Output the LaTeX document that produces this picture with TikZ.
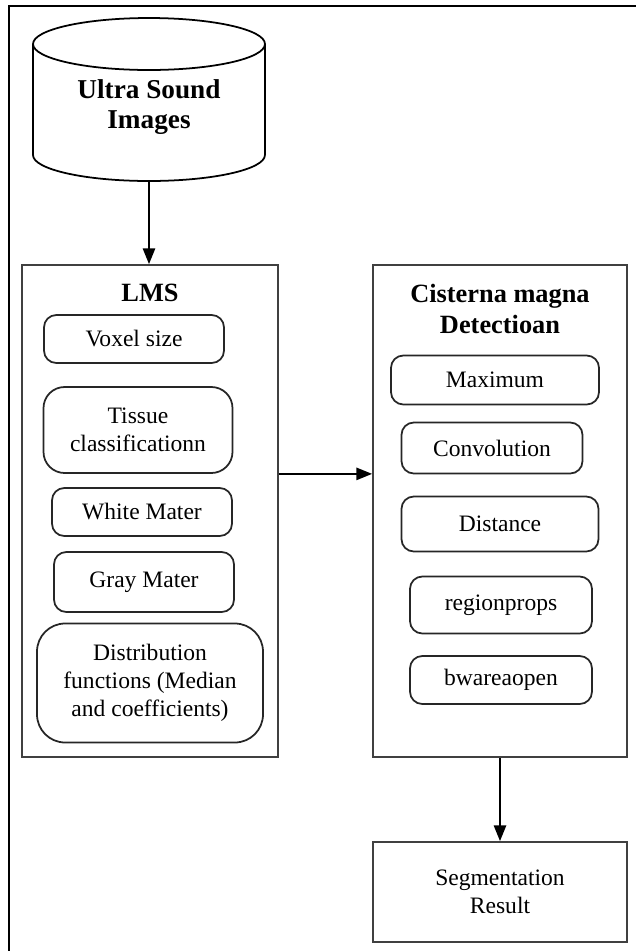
\documentclass[tikz,border=0pt]{standalone}
\usepackage{fontspec}
\setmainfont{Liberation Serif}
\usetikzlibrary{arrows.meta}
\newdimen\pxu \pxu=0.02cm
\tikzset{
  panel/.style={draw=black!75, line width=1pt},
  item/.style={draw=black!85, line width=1pt, rounded corners=7pt, align=center, inner sep=0pt},
  title/.style={font=\fontsize{15}{18}\selectfont\bfseries, align=center},
  flow/.style={-{Triangle[length=9pt,width=7pt]}, line width=1.1pt},
}
\begin{document}
\begin{tikzpicture}[x=0.02cm, y=-0.02cm, font=\fontsize{13.4}{16}\selectfont]
    \useasboundingbox (0,0) rectangle (636,951);
    % frame
    \draw[line width=1.3pt] (9,951) -- (9,6) -- (636,6);
    % database
    \draw[line width=1pt] (149,44) ellipse [x radius=2.32cm, y radius=0.52cm];
    \draw[line width=1pt] (33,44) -- (33,155) arc[start angle=180, end angle=360, x radius=2.32cm, y radius=0.52cm] -- (265,44);
    \node[title, font=\fontsize{15.5}{17}\selectfont\bfseries] (usimg) at (149,107) {Ultra Sound\\Images};
    \coordinate (usbot) at (149,181);
    % LMS panel
    \node[panel, minimum width=256\pxu, minimum height=492\pxu] (lms) at (150,511) {};
    \node[title] (lmstitle) at (150,293) {LMS};
    \node[item, minimum width=180\pxu, minimum height=48\pxu] (voxel) at (134,339) {Voxel size};
    \node[item, rounded corners=12pt, minimum width=189\pxu, minimum height=86\pxu] (tissue) at (138,430) {Tissue\\classificationn};
    \node[item, minimum width=180\pxu, minimum height=48\pxu] (white) at (142,512) {White Mater};
    \node[item, minimum width=180\pxu, minimum height=60\pxu] (gray) at (144,582) {Gray Mater};
    \node[item, rounded corners=16pt, minimum width=226\pxu, minimum height=119\pxu] (distr) at (150,683) {Distribution\\functions (Median\\and coefficients)};
    % detection panel
    \node[panel, minimum width=254\pxu, minimum height=492\pxu] (cmd) at (500,511) {};
    \node[title] (cmdtitle) at (500,309) {Cisterna magna\\Detectioan};
    \node[item, minimum width=208\pxu, minimum height=49\pxu] (maxim) at (495,380) {Maximum};
    \node[item, minimum width=181\pxu, minimum height=51\pxu] (conv) at (492,448) {Convolution};
    \node[item, minimum width=197\pxu, minimum height=55\pxu] (dist) at (500,524) {Distance};
    \node[item, minimum width=182\pxu, minimum height=57\pxu] (rprops) at (501,605) {regionprops};
    \node[item, minimum width=182\pxu, minimum height=48\pxu] (bwopen) at (501,680) {bwareaopen};
    % result
    \node[panel, align=center, minimum width=254\pxu, minimum height=100\pxu] (seg) at (500,892) {Segmentation\\Result};
    % connectors
    \draw[flow] (usbot) -- (lms.north -| usbot);
    \draw[flow] (lms.east |- tissue.south) -- (cmd.west |- tissue.south);
    \draw[flow] (cmd.south) -- (seg.north);
\end{tikzpicture}
\end{document}
